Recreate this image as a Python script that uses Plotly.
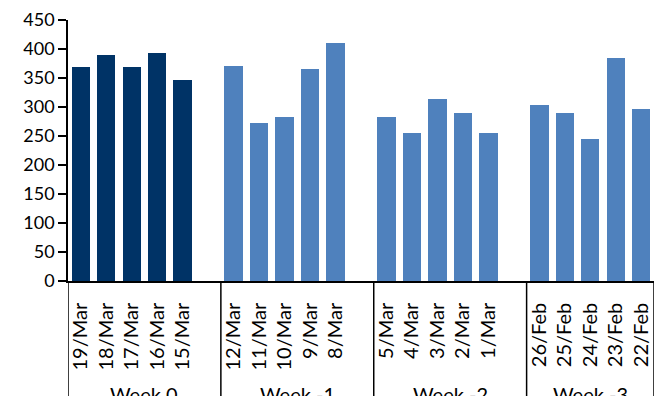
import plotly.graph_objects as go

# ---- data ----
groups = ["Week 0", "Week -1", "Week -2", "Week -3"]
week0_days = ["19/Mar", "18/Mar", "17/Mar", "16/Mar", "15/Mar"]
week1_days = ["12/Mar", "11/Mar", "10/Mar", "9/Mar", "8/Mar"]
week2_days = ["5/Mar", "4/Mar", "3/Mar", "2/Mar", "1/Mar"]
week3_days = ["26/Feb", "25/Feb", "24/Feb", "23/Feb", "22/Feb"]
week0_vals = [369, 389, 369, 393, 346]
week1_vals = [370, 273, 283, 366, 411]
week2_vals = [283, 256, 314, 290, 256]
week3_vals = [304, 290, 245, 384, 297]
y_ticks = [0, 50, 100, 150, 200, 250, 300, 350, 400, 450]

day_lists = [week0_days, week1_days, week2_days, week3_days]
val_lists = [week0_vals, week1_vals, week2_vals, week3_vals]
colors = ["#003366", "#4F81BD", "#4F81BD", "#4F81BD"]

FONT = "Lato"
fig = go.Figure()

tickvals, ticktext = [], []
pos = 0
bounds = [-0.5]
centers = []
for gi, (days, vals) in enumerate(zip(day_lists, val_lists)):
    xs = list(range(pos, pos + len(days)))
    fig.add_trace(go.Bar(x=xs, y=vals, marker=dict(color=colors[gi], line=dict(width=0)),
                         width=0.72, showlegend=False, name=groups[gi]))
    tickvals += xs
    ticktext += days
    start = bounds[-1]
    if gi < len(day_lists) - 1:
        end = pos + len(days) + 0.5  # includes an empty slot after the group
        pos = pos + len(days) + 1
    else:
        end = pos + len(days) - 0.5
    bounds.append(end)
    centers.append((start + end) / 2)

shapes = []
for b in bounds:
    shapes.append(dict(type="line", xref="x", yref="paper", x0=b, x1=b, y0=0, y1=-0.5,
                       line=dict(color="black", width=1.5)))

annotations = []
for g, c in zip(groups, centers):
    annotations.append(dict(text=g, x=c, xref="x", y=-0.38, yref="paper", yanchor="top",
                            xanchor="center", showarrow=False,
                            font=dict(family=FONT, size=20, color="black")))

fig.update_layout(
    width=662, height=396,
    margin=dict(l=68, r=8, t=20, b=115),
    paper_bgcolor="white", plot_bgcolor="white",
    bargap=0,
    shapes=shapes, annotations=annotations,
    font=dict(family=FONT, size=18, color="black"),
)
fig.update_xaxes(range=[bounds[0], bounds[-1]], tickmode="array", tickvals=tickvals, ticktext=ticktext,
                 tickangle=-90, showline=True, linecolor="black", linewidth=1.5, ticks="",
                 ticklabelstandoff=12, showgrid=False, zeroline=False,
                 tickfont=dict(family=FONT, size=20, color="black"))
fig.update_yaxes(range=[0, 450], tickmode="array", tickvals=y_ticks, showline=True, linecolor="black",
                 linewidth=1.5, ticks="outside", ticklen=8, tickwidth=1.5, tickcolor="black",
                 showgrid=False, zeroline=False,
                 tickfont=dict(family=FONT, size=18, color="black"))

fig.write_html("out.html")
